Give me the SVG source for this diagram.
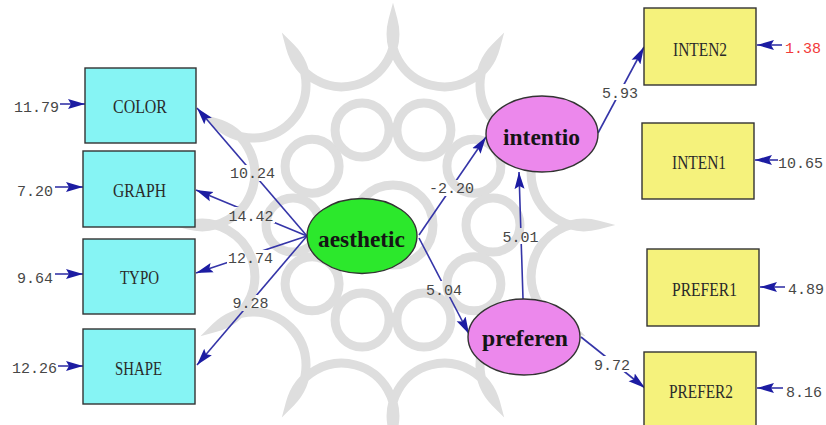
<svg xmlns="http://www.w3.org/2000/svg" width="826" height="425" viewBox="0 0 826 425">
<defs>
<style>
.wm{fill:none;stroke:#dedede;stroke-width:9}
.obs rect{stroke:#333;stroke-width:1.4}
.cy{fill:#86f4f4}
.ye{fill:#f5f27c}
.bt{font-family:"Liberation Serif","Times New Roman",serif;font-size:18px;fill:#2a2a2a;text-anchor:middle}
.lt{font-family:"Liberation Serif","Times New Roman",serif;font-size:23px;font-weight:bold;fill:#151515;text-anchor:middle}
.el{stroke:#333;stroke-width:1.4}
.num{font-family:"Liberation Mono","Courier New",monospace;font-size:15px;fill:#474747}
.edges line{stroke:#3535a8;stroke-width:1.6;marker-end:url(#ah)}
</style>
<marker id="ah" markerUnits="userSpaceOnUse" markerWidth="18" markerHeight="12" viewBox="0 0 18 12" refX="17" refY="6" orient="auto">
<path d="M0,1 L17,6 L0,11 L3,6 Z" fill="#1c1ca2"/>
</marker>
<mask id="gap" maskUnits="userSpaceOnUse" x="0" y="0" width="826" height="425">
<rect x="0" y="0" width="826" height="425" fill="#fff"/>
<rect x="229" y="165" width="47" height="16" fill="#000"/>
<rect x="227" y="207" width="48" height="16" fill="#000"/>
<rect x="227" y="250" width="47" height="16" fill="#000"/>
<rect x="232" y="295" width="37" height="16" fill="#000"/>
<rect x="427" y="180" width="49" height="16" fill="#000"/>
<rect x="502" y="228" width="37" height="16" fill="#000"/>
<rect x="425" y="281" width="38" height="16" fill="#000"/>
<rect x="593" y="356" width="38" height="16" fill="#000"/>
<rect x="601" y="84" width="38" height="16" fill="#000"/>
</mask>
</defs>
<rect width="826" height="425" fill="#fff"/>
<g id="watermark">
<path class="wm" d="M393,20 A53,53 0 0 0 495.5,47.5 A53,53 0 0 0 570.5,122.5 A53,53 0 0 0 598,225 A53,53 0 0 0 570.5,327.5 A53,53 0 0 0 495.5,402.5 A53,53 0 0 0 393,430 A53,53 0 0 0 290.5,402.5 A53,53 0 0 0 215.5,327.5 A53,53 0 0 0 188,225 A53,53 0 0 0 215.5,122.5 A53,53 0 0 0 290.5,47.5 A53,53 0 0 0 393,20 Z"/>
<circle class="wm" cx="423.9" cy="129.9" r="27"/>
<circle class="wm" cx="473.9" cy="166.2" r="27"/>
<circle class="wm" cx="493" cy="225" r="27"/>
<circle class="wm" cx="473.9" cy="283.8" r="27"/>
<circle class="wm" cx="423.9" cy="320.1" r="27"/>
<circle class="wm" cx="362.1" cy="320.1" r="27"/>
<circle class="wm" cx="312.1" cy="283.8" r="27"/>
<circle class="wm" cx="293" cy="225" r="27"/>
<circle class="wm" cx="312.1" cy="166.2" r="27"/>
<circle class="wm" cx="362.1" cy="129.9" r="27"/>
<circle class="wm" cx="393" cy="225" r="40"/>
</g>
<g id="connectors" class="edges">
<g mask="url(#gap)">
<line x1="307" y1="236" x2="197" y2="108"/>
<line x1="307" y1="236" x2="196" y2="190"/>
<line x1="307" y1="236" x2="196" y2="273"/>
<line x1="307" y1="236" x2="197" y2="365"/>
<line x1="419" y1="235" x2="486" y2="137"/>
<line x1="419" y1="238" x2="469" y2="334"/>
<line x1="523" y1="299" x2="519" y2="172"/>
<line x1="598" y1="133" x2="644" y2="47"/>
<line x1="581" y1="337" x2="645" y2="388"/>
</g>
<line x1="60" y1="104" x2="85" y2="104"/>
<line x1="55" y1="187" x2="83" y2="187"/>
<line x1="55" y1="274" x2="83" y2="274"/>
<line x1="58" y1="366" x2="83" y2="366"/>
<line x1="782" y1="45" x2="757" y2="45"/>
<line x1="778" y1="160" x2="755" y2="160"/>
<line x1="785" y1="287" x2="760" y2="287"/>
<line x1="783" y1="388" x2="757" y2="388"/>
</g>
<g id="labels" class="num">
<text x="252.5" y="178" text-anchor="middle">10.24</text>
<text x="251" y="221" text-anchor="middle">14.42</text>
<text x="250.5" y="263" text-anchor="middle">12.74</text>
<text x="250.5" y="308" text-anchor="middle">9.28</text>
<text x="451.5" y="193" text-anchor="middle">-2.20</text>
<text x="520.5" y="242" text-anchor="middle">5.01</text>
<text x="444" y="295" text-anchor="middle">5.04</text>
<text x="612" y="370" text-anchor="middle">9.72</text>
<text x="620" y="98" text-anchor="middle">5.93</text>
<text x="59" y="112" text-anchor="end">11.79</text>
<text x="53" y="196" text-anchor="end">7.20</text>
<text x="53" y="283" text-anchor="end">9.64</text>
<text x="57" y="373" text-anchor="end">12.26</text>
<text x="785" y="53" fill="#f23a3a">1.38</text>
<text x="778" y="168">10.65</text>
<text x="788" y="294">4.89</text>
<text x="786" y="397">8.16</text>
</g>
<g id="COLOR" class="obs"><rect class="cy" x="85" y="68" width="111" height="75"/><text class="bt" x="140" y="113" textLength="54" lengthAdjust="spacingAndGlyphs">COLOR</text></g>
<g id="GRAPH" class="obs"><rect class="cy" x="83" y="151" width="112" height="76"/><text class="bt" x="139.5" y="197" textLength="53" lengthAdjust="spacingAndGlyphs">GRAPH</text></g>
<g id="TYPO" class="obs"><rect class="cy" x="83" y="239" width="112" height="75"/><text class="bt" x="139.5" y="284" textLength="39" lengthAdjust="spacingAndGlyphs">TYPO</text></g>
<g id="SHAPE" class="obs"><rect class="cy" x="83" y="329" width="112" height="75"/><text class="bt" x="138.5" y="375" textLength="47" lengthAdjust="spacingAndGlyphs">SHAPE</text></g>
<g id="INTEN2" class="obs"><rect class="ye" x="644" y="8" width="112" height="77"/><text class="bt" x="700" y="56" textLength="54" lengthAdjust="spacingAndGlyphs">INTEN2</text></g>
<g id="INTEN1" class="obs"><rect class="ye" x="642" y="123" width="112" height="76"/><text class="bt" x="699" y="169" textLength="54" lengthAdjust="spacingAndGlyphs">INTEN1</text></g>
<g id="PREFER1" class="obs"><rect class="ye" x="647" y="249" width="112" height="77"/><text class="bt" x="704.5" y="296" textLength="65" lengthAdjust="spacingAndGlyphs">PREFER1</text></g>
<g id="PREFER2" class="obs"><rect class="ye" x="644" y="352" width="112" height="78"/><text class="bt" x="701" y="398" textLength="64" lengthAdjust="spacingAndGlyphs">PREFER2</text></g>
<g id="aesthetic"><ellipse class="el" cx="362" cy="236" rx="55" ry="37.5" fill="#2ce82c"/><text class="lt" x="361.5" y="247" textLength="87" lengthAdjust="spacingAndGlyphs">aesthetic</text></g>
<g id="intentio"><ellipse class="el" cx="542" cy="134" rx="56" ry="38" fill="#ec88ec"/><text class="lt" x="541.5" y="145" textLength="77" lengthAdjust="spacingAndGlyphs">intentio</text></g>
<g id="preferen"><ellipse class="el" cx="524" cy="337" rx="56" ry="38" fill="#ec88ec"/><text class="lt" x="525" y="346" textLength="86" lengthAdjust="spacingAndGlyphs">preferen</text></g>
</svg>
